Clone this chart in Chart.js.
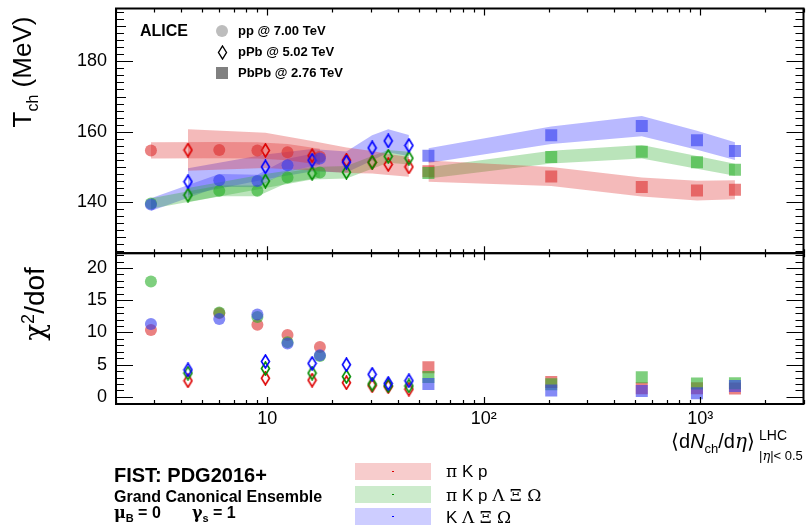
<!DOCTYPE html>
<html>
<head>
<meta charset="utf-8">
<script src="https://cdn.jsdelivr.net/npm/chart.js@4.4.1/dist/chart.umd.min.js"></script>
<style>
  body { margin: 0; background: #fff; }
  #wrap { position: relative; width: 812px; height: 525px; font-family: "Liberation Sans", Arial, sans-serif; color: #000; }
  #plot { position: absolute; left: 0; top: 0; }
  .t { position: absolute; white-space: nowrap; line-height: 1; }
  .b { font-weight: bold; }
  .gr { font-family: "DejaVu Serif", "Liberation Serif", serif; }
  .rot { transform: translate(-50%, -50%) rotate(-90deg); }
  .box { position: absolute; width: 76px; height: 17px; }
  .box i { position: absolute; left: 37px; top: 8px; width: 2px; height: 1px; }
</style>
</head>
<body>
<div id="wrap">
  <canvas id="plot" width="812" height="525"></canvas>

  <div class="t b" style="left:140px; top:23px; font-size:16px;">ALICE</div>
  <div style="position:absolute; left:216px; top:25px; width:12px; height:12px; border-radius:50%; background:#bdbdbd;"></div>
  <svg style="position:absolute; left:217px; top:45px;" width="11" height="15"><polygon points="5.5,1 9.5,7.5 5.5,14 1.5,7.5" fill="none" stroke="#000" stroke-width="1.4"/></svg>
  <div style="position:absolute; left:216px; top:67px; width:12px; height:12px; background:#808080;"></div>
  <div class="t b" style="left:238px; top:24px; font-size:13px;">pp @ 7.00 TeV</div>
  <div class="t b" style="left:238px; top:45px; font-size:13px;">pPb @ 5.02 TeV</div>
  <div class="t b" style="left:238px; top:66px; font-size:13px;">PbPb @ 2.76 TeV</div>

  <div class="t rot" style="left:25px; top:72px; font-size:26px;">T<sub style="font-size:16px;">ch</sub> (MeV)</div>
  <div class="t rot" style="left:34px; top:304px; font-size:28px;"><span class="gr">&chi;</span><sup style="font-size:18px;">2</sup>/dof</div>

  <div class="t" style="left:671px; top:431px; font-size:20px;">&#10216;d<i>N</i><sub style="font-size:13px;">ch</sub>/d<i class="gr">&eta;</i>&#10217;</div>
  <div class="t" style="left:759px; top:428px; font-size:14px;">LHC</div>
  <div class="t" style="left:759px; top:449px; font-size:13px;">|<i class="gr">&eta;</i>|&lt; 0.5</div>

  <div class="t b" style="left:114px; top:465px; font-size:20px;">FIST: PDG2016+</div>
  <div class="t b" style="left:114px; top:489px; font-size:16px;">Grand Canonical Ensemble</div>
  <div class="t b" style="left:114px; top:505px; font-size:16px;"><span class="gr">&mu;</span><sub style="font-size:11px;">B</sub> = 0 &nbsp; &nbsp; &nbsp; <span class="gr">&gamma;</span><sub style="font-size:11px;">s</sub> = 1</div>

  <div class="box" style="left:355px; top:463px; background:rgba(220,40,40,0.24);"><i style="background:#d00;"></i></div>
  <div class="box" style="left:355px; top:486px; background:rgba(40,170,40,0.24);"><i style="background:#080;"></i></div>
  <div class="box" style="left:355px; top:508px; background:rgba(60,60,255,0.26);"><i style="background:#00f;"></i></div>
  <div class="t" style="left:446px; top:463px; font-size:17px;"><span class="gr">&pi;</span> K p</div>
  <div class="t" style="left:446px; top:487px; font-size:17px;"><span class="gr">&pi;</span> K p <span class="gr">&Lambda; &Xi; &Omega;</span></div>
  <div class="t" style="left:446px; top:509px; font-size:17px;">K <span class="gr">&Lambda; &Xi; &Omega;</span></div>
</div>

<script>
// <dNch/deta> of each multiplicity class
var ppX   = [2.9, 6.0, 9.0, 12.4, 17.5];
var pPbX  = [4.3, 9.8, 16.1, 23.2, 30.5, 36.2, 45.1];
var PbPbX = [55.5, 205, 537, 966, 1447];

// T_ch (MeV) and band half-widths, fit to pi K p
var ppT_piKp     = [154.7, 154.8, 154.7, 154.2, 152.9];
var ppErr_piKp   = [2.3, 2.3, 2.3, 2.3, 2.3];
var pPbT_piKp    = [154.8, 154.7, 153.2, 151.9, 151.3, 150.7, 150.0];
var pPbErr_piKp  = [5.9, 5.0, 4.2, 3.6, 3.2, 3.0, 2.8];
var PbPbT_piKp   = [148.8, 147.3, 144.3, 143.3, 143.5];
var PbPbErr_piKp = [3.0, 2.7, 2.7, 2.8, 2.7];

// fit to pi K p Lambda Xi Omega
var ppT_all     = [139.6, 143.2, 143.2, 147.0, 148.4];
var ppErr_all   = [1.5, 1.5, 1.5, 1.5, 1.5];
var pPbT_all    = [142.0, 146.0, 148.2, 148.5, 151.3, 153.0, 152.5];
var pPbErr_all  = [2.0, 2.0, 1.8, 1.8, 1.8, 1.8, 1.8];
var PbPbT_all   = [148.3, 152.8, 154.3, 151.3, 149.2];
var PbPbErr_all = [1.6, 1.8, 1.9, 1.8, 1.7];

// fit to K Lambda Xi Omega
var ppT_KLXO     = [139.3, 146.2, 146.0, 150.5, 152.4];
var ppErr_KLXO   = [1.8, 1.8, 1.8, 1.8, 1.8];
var pPbT_KLXO    = [145.8, 150.0, 151.9, 151.4, 155.4, 157.4, 156.1];
var pPbErr_KLXO  = [3.8, 3.5, 3.2, 3.0, 3.6, 3.3, 3.0];
var PbPbT_KLXO   = [153.2, 159.0, 161.6, 157.6, 154.5];
var PbPbErr_KLXO = [2.1, 2.5, 2.9, 2.7, 2.5];

// chi2/dof of each fit
var ppChi_piKp   = [10.4, 13.0, 11.2, 9.6, 7.75];
var pPbChi_piKp  = [2.5, 2.9, 2.6, 2.2, 1.75, 1.6, 1.2];
var PbPbChi_piKp = [4.6, 2.33, 1.35, 1.35, 1.29];
var ppChi_all    = [17.9, 13.1, 12.4, 8.5, 6.35];
var pPbChi_all   = [3.7, 4.4, 3.7, 3.15, 2.0, 1.75, 1.7];
var PbPbChi_all  = [3.1, 1.96, 3.05, 2.07, 2.12];
var ppChi_KLXO   = [11.3, 12.1, 12.8, 8.3, 6.45];
var pPbChi_KLXO  = [4.2, 5.5, 5.2, 5.0, 3.5, 2.1, 2.5];
var PbPbChi_KLXO = [2.0, 0.98, 0.93, 0.57, 1.7];

// axis ticks
var xMajor = [10, 100, 1000];
var xTickLabels = ['10', '10\u00b2', '10\u00b3'];
var tMajor = [140, 160, 180];
var chiMajor = [0, 5, 10, 15, 20];

function diamond(color) {
  var c = document.createElement('canvas');
  c.width = 11; c.height = 15;
  var g = c.getContext('2d');
  g.strokeStyle = color;
  g.lineWidth = 1.6;
  g.beginPath();
  g.moveTo(5.5, 1); g.lineTo(9.5, 7.5); g.lineTo(5.5, 14); g.lineTo(1.5, 7.5);
  g.closePath();
  g.stroke();
  return c;
}

function pts(xs, ys, d) {
  return xs.map(function (x, i) { return { x: x, y: ys[i] + (d ? d[i] : 0) }; });
}

var fits = [
  { band: 'rgba(220,40,40,0.32)', mark: 'rgba(220,45,45,0.6)', line: '#dd0000', order: 3,
    pp: [ppT_piKp, ppErr_piKp, ppChi_piKp], pPb: [pPbT_piKp, pPbErr_piKp, pPbChi_piKp], PbPb: [PbPbT_piKp, PbPbErr_piKp, PbPbChi_piKp] },
  { band: 'rgba(40,170,40,0.32)', mark: 'rgba(40,175,40,0.6)', line: '#008c00', order: 2,
    pp: [ppT_all, ppErr_all, ppChi_all], pPb: [pPbT_all, pPbErr_all, pPbChi_all], PbPb: [PbPbT_all, PbPbErr_all, PbPbChi_all] },
  { band: 'rgba(60,60,255,0.36)', mark: 'rgba(50,60,240,0.6)', line: '#0000ff', order: 1,
    pp: [ppT_KLXO, ppErr_KLXO, ppChi_KLXO], pPb: [pPbT_KLXO, pPbErr_KLXO, pPbChi_KLXO], PbPb: [PbPbT_KLXO, PbPbErr_KLXO, PbPbChi_KLXO] }
];
var systems = [
  { key: 'pp', x: ppX, style: 'circle', r: 6 },
  { key: 'pPb', x: pPbX, style: 'diamond', r: 6 },
  { key: 'PbPb', x: PbPbX, style: 'rect', r: 8.5 }
];

var datasets = [];
fits.forEach(function (f) {
  systems.forEach(function (s) {
    var T = f[s.key][0], err = f[s.key][1];
    var neg = err.map(function (e) { return -e; });
    datasets.push({ data: pts(s.x, T, err), yAxisID: 'yT', fill: '+1', backgroundColor: f.band,
      borderWidth: 0, pointRadius: 0, order: 10 });
    datasets.push({ data: pts(s.x, T, neg), yAxisID: 'yT', fill: false,
      borderWidth: 0, pointRadius: 0, order: 10 });
  });
});
fits.forEach(function (f) {
  var dia = diamond(f.line);
  systems.forEach(function (s) {
    var st = s.style === 'diamond' ? dia : s.style;
    var common = { showLine: false, pointStyle: st, pointRadius: s.r, pointBorderWidth: 0,
      pointBackgroundColor: f.mark, pointBorderColor: f.mark, order: f.order };
    datasets.push(Object.assign({ data: pts(s.x, f[s.key][0]), yAxisID: 'yT' }, common));
    datasets.push(Object.assign({ data: pts(s.x, f[s.key][2]), yAxisID: 'yC' }, common));
  });
});

// ROOT-like frames with inward ticks on every side
var rootFrame = {
  id: 'rootFrame',
  afterDatasetsDraw: function (chart) {
    var ctx = chart.ctx, xs = chart.scales.x;
    var L = chart.chartArea.left, R = chart.chartArea.right;
    var panels = [
      { s: chart.scales.yT, major: tMajor, step: 2, mid: 10 },
      { s: chart.scales.yC, major: chiMajor, step: 1, mid: 0 }
    ];
    ctx.save();
    ctx.strokeStyle = '#000';
    panels.forEach(function (p) {
      var s = p.s, top = s.top, bot = s.bottom;
      ctx.lineWidth = 1.2;
      ctx.beginPath();
      for (var v = Math.ceil(s.min / p.step) * p.step; v <= s.max; v += p.step) {
        var y = Math.round(s.getPixelForValue(v)) + 0.5;
        var len = p.major.indexOf(v) >= 0 ? 17 : (p.mid && v % p.mid === 0 ? 10 : 8);
        ctx.moveTo(L, y); ctx.lineTo(L + len, y);
        ctx.moveTo(R, y); ctx.lineTo(R - len, y);
      }
      for (var dec = 1; dec <= 1000; dec *= 10) {
        for (var k = 1; k <= 9; k++) {
          var xv = k * dec;
          if (xv < xs.min || xv > xs.max) continue;
          var x = Math.round(xs.getPixelForValue(xv)) + 0.5;
          var tl = k === 1 ? 7 : 4;
          ctx.moveTo(x, top); ctx.lineTo(x, top + tl);
          ctx.moveTo(x, bot); ctx.lineTo(x, bot - tl);
        }
      }
      ctx.stroke();
      ctx.lineWidth = 2;
      ctx.strokeRect(L, top, R - L, bot - top);
    });
    ctx.restore();
  }
};

var yTicks = { color: '#000', padding: 9, font: { size: 18, family: 'Liberation Sans' } };
function fixY(s) { s.width = 116; s.paddingTop = 0; s.paddingBottom = 0; }

new Chart(document.getElementById('plot'), {
  type: 'line',
  data: { datasets: datasets },
  options: {
    responsive: false,
    animation: false,
    events: [],
    layout: { padding: { left: 0, right: 2, top: 8, bottom: 0 } },
    plugins: { legend: { display: false }, tooltip: { enabled: false } },
    scales: {
      x: {
        type: 'logarithmic', min: 2, max: 3000,
        grid: { display: false, drawTicks: false }, border: { display: false },
        afterBuildTicks: function (s) { s.ticks = xMajor.map(function (v) { return { value: v }; }); },
        afterFit: function (s) { s.height = 121; s.paddingLeft = 0; s.paddingRight = 0; },
        ticks: { color: '#000', padding: 4, maxRotation: 0, autoSkip: false,
          font: { size: 18, family: 'Liberation Sans' },
          callback: function (v) { return xTickLabels[xMajor.indexOf(v)]; } }
      },
      yC: {
        type: 'linear', position: 'left', stack: 'panels', stackWeight: 151,
        min: -1.1, max: 22.3,
        grid: { display: false, drawTicks: false }, border: { display: false },
        afterBuildTicks: function (s) { s.ticks = chiMajor.map(function (v) { return { value: v }; }); },
        afterFit: fixY,
        ticks: yTicks
      },
      yT: {
        type: 'linear', position: 'left', stack: 'panels', stackWeight: 245,
        min: 125.5, max: 195,
        grid: { display: false, drawTicks: false }, border: { display: false },
        afterBuildTicks: function (s) { s.ticks = tMajor.map(function (v) { return { value: v }; }); },
        afterFit: fixY,
        ticks: yTicks
      }
    }
  },
  plugins: [rootFrame]
});
</script>
</body>
</html>
